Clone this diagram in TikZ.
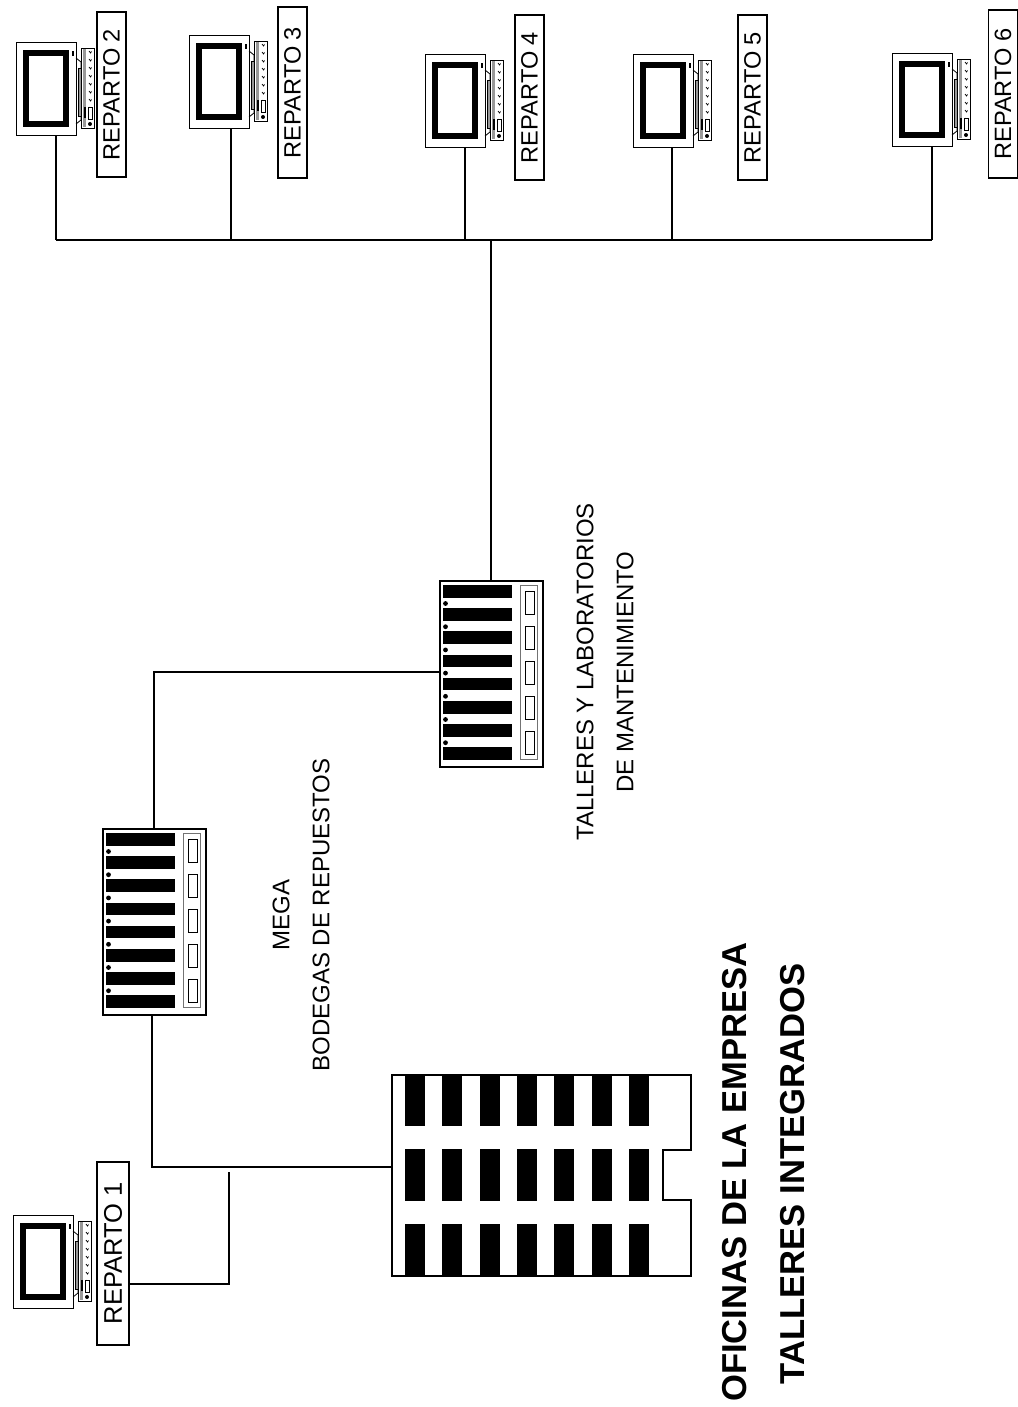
\documentclass[tikz,border=0pt]{standalone}
\usepackage{fontspec}
\setmainfont{Liberation Sans}
\usetikzlibrary{positioning,calc}
\tikzset{
  every picture/.style={line width=1pt},
  monitor/.style={draw,rectangle,minimum height=93pt,minimum width=60pt,inner sep=0,line width=1.1pt,anchor=north west},
  namebox/.style={draw,rectangle,rotate=90,minimum height=29pt,minimum width=165pt,inner sep=0,line width=1.4pt,font=\fontsize{23.6}{24}\selectfont},
  rack/.style={draw,rectangle,minimum height=186pt,minimum width=103pt,inner sep=0,line width=1.5pt,anchor=north west},
  lbl/.style={rotate=90,align=center,font=\fontsize{24}{40}\selectfont},
  ttl/.style={rotate=90,font=\fontsize{34.6}{35}\selectfont\bfseries},
  link/.style={line width=1.1pt},
  gris/.style={draw=black!55,line width=0.8pt},
}
\newcommand{\pcUnit}[3]{% name, x, y (top left corner of the monitor)
  \node[monitor] (#1) at (#2,#3) {};
  \begin{scope}[shift={(#2,#3)}]
    \draw[line width=6pt] (10,11) rectangle (50,82);
    \fill (55.5,9) rectangle (57.5,14);
    \draw[line width=0.8pt] (60,16) -- (65,20) -- (65,78) -- (60,82);
    \draw[fill=black!40,line width=0.6pt] (62,26) rectangle (65,74);
    \draw[fill=white,line width=0.9pt] (65,6) rectangle (78,86);
    \fill[black!40] (67,7) rectangle (69.5,85);
    \fill (68,65) rectangle (69.5,76);
    \foreach \k in {0,...,7}{\draw[line width=0.7pt] (73,9+8*\k) -- (74.5,11+8*\k) -- (75.5,9.5+8*\k);}
    \draw[line width=0.6pt,fill=white] (72,65) rectangle (76,77);
    \fill (74,82) circle (2pt);
  \end{scope}}
\newcommand{\rackUnit}[3]{% name, x, y
  \node[rack] (#1) at (#2,#3) {};
  \begin{scope}[shift={(#2,#3)}]
    \foreach \k in {0,...,7}{\fill (4,5+23.2*\k) rectangle (73,17.5+23.2*\k);}
    \foreach \k in {0,...,6}{\fill (6.5,23.5+23.2*\k) circle (2.4pt);}
    \draw[gris] (81,5) rectangle (98,179);
    \foreach \k in {0,...,4}{\draw[line width=0.8pt] (86,11+35*\k) rectangle (95,34+35*\k);}
  \end{scope}}
\begin{document}
\begin{tikzpicture}[x=1pt,y=-1pt]
\useasboundingbox (0,0) rectangle (1017,1407);
% --- equipos ---
\pcUnit{M1}{13}{1215}
\pcUnit{M2}{16}{42}
\pcUnit{M3}{189}{35}
\pcUnit{M4}{425}{54}
\pcUnit{M5}{633}{54}
\pcUnit{M6}{892}{53}
% --- rotulos ---
\node[namebox,minimum width=183pt,minimum height=32pt,font=\fontsize{25.5}{26}\selectfont] (L1) at (113,1253.5) {REPARTO 1};
\node[namebox] (L2) at (111.5,94.5) {REPARTO 2};
\node[namebox,minimum width=171pt] (L3) at (292.5,92.5) {REPARTO 3};
\node[namebox] (L4) at (529.5,97.5) {REPARTO 4};
\node[namebox] (L5) at (752.5,97.5) {REPARTO 5};
\node[namebox,minimum width=168pt] (L6) at (1003,94) {REPARTO 6};
% --- racks ---
\rackUnit{RK1}{102}{828}
\rackUnit{RK2}{439}{580}
% --- edificio ---
\draw[line width=1.1pt] (392,1075) -- (691,1075) -- (691,1150) -- (663,1150) -- (663,1200) -- (691,1200) -- (691,1276) -- (392,1276) -- cycle;
\foreach \k in {0,...,6}{
  \fill (405+37.3*\k,1074) rectangle ++(20,52);
  \fill (405+37.3*\k,1149) rectangle ++(20,52);
  \fill (405+37.3*\k,1224) rectangle ++(20,52);
}
\coordinate (OF) at (392,1167);
% --- bus ---
\coordinate (B1) at (56,240);
\coordinate (B3) at (231,240);
\coordinate (B4) at (465,240);
\coordinate (B5) at (672,240);
\coordinate (B6) at (932,240);
\coordinate (T1) at (491,240);
\coordinate (C1) at (154,672);
\coordinate (C2) at (152,1167);
\coordinate (J1) at (229,1284);
\coordinate (J2) at (229,1172);
\draw[link] (B1) -- (B6);
\draw[link] (M2.south -| B1) -- (B1);
\draw[link] (M3.south -| B3) -- (B3);
\draw[link] (M4.south -| B4) -- (B4);
\draw[link] (M5.south -| B5) -- (B5);
\draw[link] (M6.south -| B6) -- (B6);
\draw[link] (T1) -- (T1 |- RK2.north);
\draw[link] (RK2.west |- C1) -- (C1) -- (C1 |- RK1.north);
\draw[link] (C2 |- RK1.south) -- (C2) -- (OF);
\draw[link] (L1.south |- J1) -- (J1) -- (J2);
% --- textos ---
\node[lbl] (TX1) at (301,915) {MEGA\\BODEGAS DE REPUESTOS};
\node[lbl] (TX2) at (605,672) {TALLERES Y LABORATORIOS\\DE MANTENIMIENTO};
\node[ttl] (TX3) at (735,1172) {OFICINAS DE LA EMPRESA};
\node[ttl] (TX4) at (793,1174) {TALLERES INTEGRADOS};
\end{tikzpicture}
\end{document}
